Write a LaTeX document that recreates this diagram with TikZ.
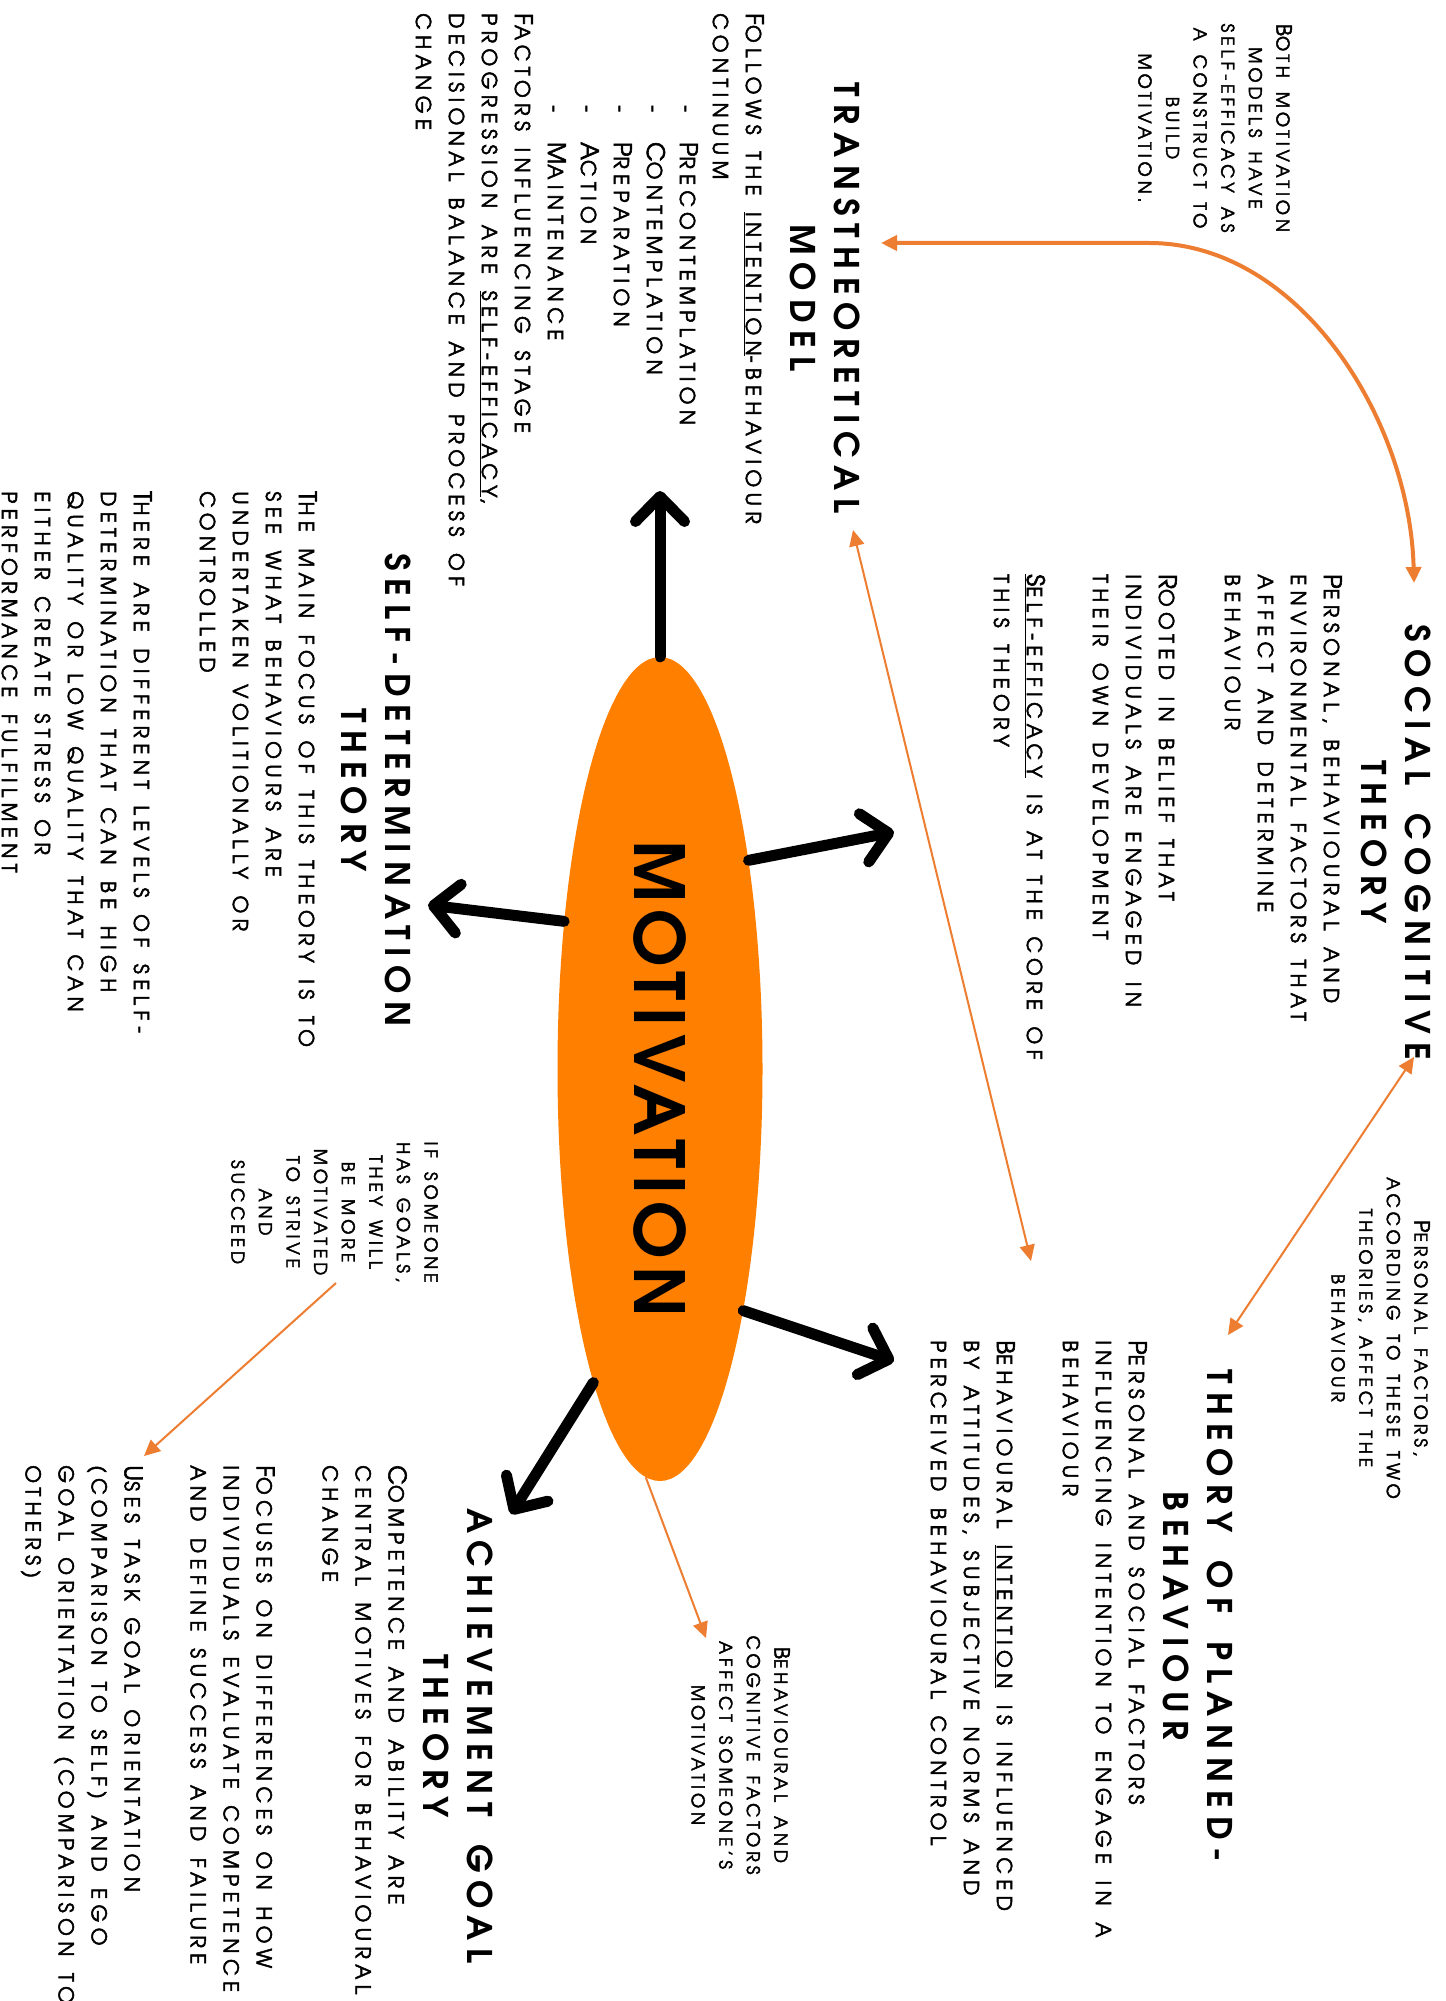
\documentclass[tikz,border=0pt]{standalone}
\usepackage{graphicx}
\usepackage{fontspec}
\setmainfont{TeX Gyre Adventor}
\newfontfamily\titlefont[LetterSpace=23, WordSpace=1.6]{TeX Gyre Adventor}
\newfontfamily\bodyfont[LetterSpace=26, WordSpace=1.5, FakeBold=2.5]{TeX Gyre Adventor}
\newfontfamily\notefont[LetterSpace=22, WordSpace=1.6, FakeBold=2.5]{TeX Gyre Adventor}
\newfontfamily\motivfont[LetterSpace=10]{TeX Gyre Adventor}
\usetikzlibrary{arrows.meta, shapes.geometric}
\definecolor{motivorange}{RGB}{255,128,0}
\definecolor{linkorange}{RGB}{237,125,49}
\newcommand{\Cap}[1]{\scalebox{1.18}{#1}}

\begin{document}
\begin{tikzpicture}[x=1pt, y=-1pt]
				\tikzstyle{Title} = [rotate=-90, inner sep=0, anchor=north, align=center, font=\titlefont\bfseries\fontsize{34}{44}\selectfont]
				\tikzstyle{Body} = [rotate=-90, inner sep=0, anchor=north west, align=left, font=\bodyfont\fontsize{20.5}{33}\selectfont]
				\tikzstyle{Note} = [rotate=-90, inner sep=0, anchor=north, align=center, font=\notefont\fontsize{17.6}{27.6}\selectfont]
				\tikzstyle{bigarrow} = [line width=11pt, line cap=round, >={Straight Barb[length=25pt, width=49pt, round]}, ->]
				\tikzstyle{link} = [linkorange, line width=2pt, >={Triangle[length=16pt, width=15pt]}, ->]
				\tikzstyle{twolink} = [link, <->]

				\fill [white] (0,0) rectangle (1445,2001);
				\useasboundingbox (0,0) rectangle (1445,2001);

				% centre
				\node (motiv) [ellipse, fill=motivorange, minimum width=205pt, minimum height=824pt, inner sep=0] at (660,1069) {\rotatebox{-90}{\motivfont\bfseries\fontsize{69}{69}\selectfont\hspace*{20pt}MOTIVATION}};

				% theories
				\node (sctitle) [Title] at (1431,842) {SOCIAL COGNITIVE\\THEORY};
				\node (scbody) [Body] at (1342,574) {\Cap{P}ERSONAL, BEHAVIOURAL AND\\ENVIRONMENTAL FACTORS THAT\\AFFECT AND DETERMINE\\BEHAVIOUR\\[33pt]\Cap{R}OOTED IN BELIEF THAT\\INDIVIDUALS ARE ENGAGED IN\\THEIR OWN DEVELOPMENT\\[33pt]\underline{\Cap{S}ELF-EFFICACY} IS AT THE CORE OF\\THIS THEORY};

				\node (tttitle) [Title] at (860,298) {TRANSTHEORETICAL\\MODEL};
				\node (ttbody) [Body] at (764,13) {\Cap{F}OLLOWS THE \underline{INTENTION}-BEHAVIOUR\\CONTINUUM\\\hspace*{92pt}-\hspace{30pt}\Cap{P}RECONTEMPLATION\\\hspace*{92pt}-\hspace{30pt}\Cap{C}ONTEMPLATION\\\hspace*{92pt}-\hspace{30pt}\Cap{P}REPARATION\\\hspace*{92pt}-\hspace{30pt}\Cap{A}CTION\\\hspace*{92pt}-\hspace{30pt}\Cap{M}AINTENANCE\\\Cap{F}ACTORS INFLUENCING STAGE\\PROGRESSION ARE \underline{SELF-EFFICACY},\\DECISIONAL BALANCE AND PROCESS OF\\CHANGE};

				\node (sdtitle) [Title] at (411,790) {SELF-DETERMINATION\\THEORY};
				\node (sdbody) [Body] at (317,491) {\Cap{T}HE MAIN FOCUS OF THIS THEORY IS TO\\SEE WHAT BEHAVIOURS ARE\\UNDERTAKEN VOLITIONALLY OR\\CONTROLLED\\[33pt]\Cap{T}HERE ARE DIFFERENT LEVELS OF SELF-\\DETERMINATION THAT CAN BE HIGH\\QUALITY OR LOW QUALITY THAT CAN\\EITHER CREATE STRESS OR\\PERFORMANCE FULFILMENT};

				\node (tpbtitle) [Title] at (1233,1616) {THEORY OF PLANNED-\\BEHAVIOUR};
				\node (tpbbody) [Body] at (1147,1340) {\Cap{P}ERSONAL AND SOCIAL FACTORS\\INFLUENCING INTENTION TO ENGAGE IN A\\BEHAVIOUR\\[33pt]\Cap{B}EHAVIOURAL \underline{INTENTION} IS INFLUENCED\\BY ATTITUDES, SUBJECTIVE NORMS AND\\PERCEIVED BEHAVIOURAL CONTROL};

				\node (agtitle) [Title] at (493,1736) {ACHIEVEMENT GOAL\\THEORY};
				\node (agbody) [Body] at (407,1465) {\Cap{C}OMPETENCE AND ABILITY ARE\\CENTRAL MOTIVES FOR BEHAVIOURAL\\CHANGE\\[33pt]\Cap{F}OCUSES ON DIFFERENCES ON HOW\\INDIVIDUALS EVALUATE COMPETENCE\\AND DEFINE SUCCESS AND FAILURE\\[33pt]\Cap{U}SES TASK GOAL ORIENTATION\\(COMPARISON TO SELF) AND EGO\\GOAL ORIENTATION (COMPARISON TO\\OTHERS)};

				% side notes
				\node (bothnote) [Note] at (1292,128) {\Cap{B}OTH MOTIVATION\\MODELS HAVE\\SELF-EFFICACY AS\\A CONSTRUCT TO\\BUILD\\MOTIVATION.};
				\node (ifnote) [Note] at (438,1212) {IF SOMEONE\\HAS GOALS,\\THEY WILL\\BE MORE\\MOTIVATED\\TO STRIVE\\AND\\SUCCEED};
				\node (pfnote) [Note] at (1430,1338) {\Cap{P}ERSONAL FACTORS,\\ACCORDING TO THESE TWO\\THEORIES, AFFECT THE\\BEHAVIOUR};
				\node (bcnote) [Note] at (790,1755) {\Cap{B}EHAVIOURAL AND\\COGNITIVE FACTORS\\AFFECT SOMEONE’S\\MOTIVATION};

				% black arrows
				\coordinate (ttend) at (660,491);
				\coordinate (scend) at (894,832);
				\coordinate (sdend) at (428,905);
				\coordinate (tpbend) at (894,1361);
				\coordinate (agend) at (511,1514);
				\draw [bigarrow] (motiv.north) -- (ttend);
				\draw [bigarrow] (motiv.67.6) -- (scend);
				\draw [bigarrow] (motiv.123.7) -- (sdend);
				\draw [bigarrow] (motiv.289.3) -- (tpbend);
				\draw [bigarrow] (motiv.258.4) -- (agend);

				% orange links
				\coordinate (ttlink) at (881,243);
				\coordinate (sclink) at (1414,583);
				\coordinate (tthead) at (853,530);
				\coordinate (tpbhead) at (1031,1261);
				\coordinate (schead) at (1414,1057);
				\coordinate (tpblink) at (1228,1335);
				\coordinate (bclink) at (706,1638);
				\coordinate (iftail) at (336,1283);
				\coordinate (aglink) at (144,1456);
				\draw [twolink, line width=4pt] (ttlink) -- (1149,243) .. controls (1300,243) and (1410,420) .. (sclink);
				\draw [twolink] (tthead) -- (tpbhead);
				\draw [twolink] (schead) -- (tpblink);
				\draw [link] (motiv.268) -- (bclink);
				\draw [link] (iftail) -- (aglink);
\end{tikzpicture}
\end{document}
